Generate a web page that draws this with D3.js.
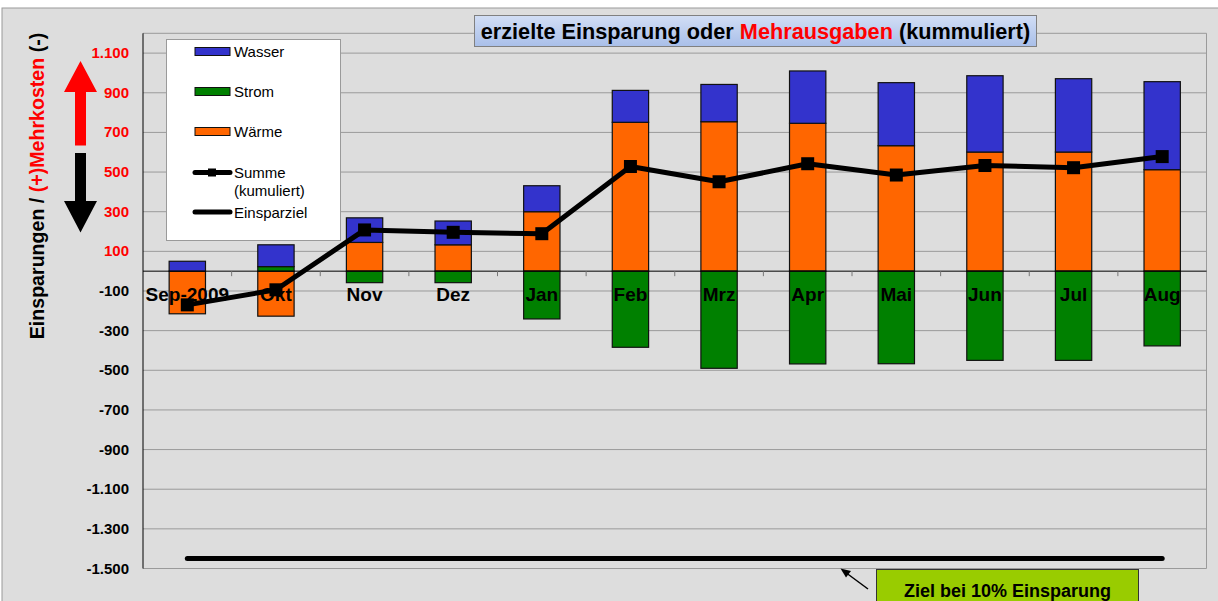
<!DOCTYPE html>
<html>
<head>
<meta charset="utf-8">
<title>Einsparung</title>
<script src="https://cdn.jsdelivr.net/npm/d3@7"></script>
<style>
  body { margin: 0; background: #fff; }
  svg { display: block; font-family: Arial, "Liberation Sans", sans-serif; }
</style>
</head>
<body>
<script>
// data
var categories = ["Sep-2009", "Okt", "Nov", "Dez", "Jan", "Feb", "Mrz", "Apr", "Mai", "Jun", "Jul", "Aug"];
var waerme = [-215, -227, 145, 133, 300, 751, 754, 746, 633, 601, 601, 512];
var strom  = [0, 23, -58, -58, -241, -384, -490, -468, -467, -450, -450, -377];
var wasser = [50, 110, 124, 120, 131, 161, 188, 264, 318, 385, 370, 444];
var summe  = [-170, -94, 208, 196, 189, 528, 451, 542, 485, 533, 522, 578];
var einsparziel = [-1450, -1450, -1450, -1450, -1450, -1450, -1450, -1450, -1450, -1450, -1450, -1450];
var yTicks = [1100, 900, 700, 500, 300, 100, -100, -300, -500, -700, -900, -1100, -1300, -1500];

var colours = { waerme: "#FF6600", strom: "#008000", wasser: "#3333CC" };

var W = 1218, H = 601;
var plot = { left: 143, right: 1206.5, top: 33.3, bottom: 568.5 };

var de = d3.formatLocale({ decimal: ",", thousands: ".", grouping: [3], currency: ["", " €"], minus: "-" });
var fmt = de.format(",");

var svg = d3.select("body").append("svg")
    .attr("width", W)
    .attr("height", H);

// chart area
svg.append("rect")
    .attr("x", 2).attr("y", 8)
    .attr("width", W + 10).attr("height", H)
    .attr("fill", "#DDDDDD")
    .attr("stroke", "#9a9a9a");

var x = d3.scaleBand()
    .domain(categories)
    .range([plot.left, plot.right])
    .padding(0);

var y = d3.scaleLinear()
    .domain([-1500, 1200])
    .range([plot.bottom, plot.top]);

var barW = x.bandwidth() * 0.41;
var cx = function(c) { return x(c) + x.bandwidth() / 2; };

// gridlines
svg.append("g")
    .selectAll("line")
    .data(yTicks)
    .enter()
    .append("line")
    .attr("x1", plot.left).attr("x2", plot.right)
    .attr("y1", function(d) { return y(d); })
    .attr("y2", function(d) { return y(d); })
    .attr("stroke", "#9a9a9a")
    .attr("stroke-width", 1);

// plot border top and right
svg.append("path")
    .attr("d", "M" + plot.left + "," + plot.top + "H" + plot.right + "V" + plot.bottom)
    .attr("fill", "none")
    .attr("stroke", "#9a9a9a");

// y tick labels
svg.append("g")
    .selectAll("text")
    .data(yTicks)
    .enter()
    .append("text")
    .attr("x", 129)
    .attr("y", function(d) { return y(d) + 5; })
    .attr("text-anchor", "end")
    .attr("font-size", "15px")
    .attr("font-weight", "bold")
    .attr("fill", function(d) { return d > 0 ? "#FF0000" : "#000"; })
    .text(function(d) { return fmt(d); });

// stacked bars
var table = categories.map(function(c, i) {
    return { cat: c, waerme: waerme[i], strom: strom[i], wasser: wasser[i] };
});
var stack = d3.stack()
    .keys(["waerme", "strom", "wasser"])
    .offset(d3.stackOffsetDiverging);
var series = stack(table);

svg.append("g")
    .selectAll("g")
    .data(series)
    .enter()
    .append("g")
    .attr("fill", function(s) { return colours[s.key]; })
    .selectAll("rect")
    .data(function(s) { return s.filter(function(d) { return d[1] - d[0] !== 0; }); })
    .enter()
    .append("rect")
    .attr("x", function(d) { return cx(d.data.cat) - barW / 2; })
    .attr("width", barW)
    .attr("y", function(d) { return y(Math.max(d[0], d[1])); })
    .attr("height", function(d) { return Math.abs(y(d[0]) - y(d[1])); })
    .attr("stroke", "#111")
    .attr("stroke-width", 1.2);

// y axis line and zero line
svg.append("line")
    .attr("x1", plot.left).attr("x2", plot.left)
    .attr("y1", plot.top).attr("y2", plot.bottom)
    .attr("stroke", "#000");
svg.append("line")
    .attr("x1", plot.left).attr("x2", plot.right)
    .attr("y1", y(0)).attr("y2", y(0))
    .attr("stroke", "#000");
svg.append("g")
    .selectAll("line")
    .data(categories.slice(1))
    .enter()
    .append("line")
    .attr("x1", function(d) { return x(d); })
    .attr("x2", function(d) { return x(d); })
    .attr("y1", y(0)).attr("y2", y(0) + 5)
    .attr("stroke", "#777");

// category labels
svg.append("g")
    .selectAll("text")
    .data(categories)
    .enter()
    .append("text")
    .attr("x", function(d) { return cx(d); })
    .attr("y", 301)
    .attr("text-anchor", "middle")
    .attr("font-size", "19px")
    .attr("font-weight", "bold")
    .text(function(d) { return d; });

// Einsparziel
var line = d3.line()
    .x(function(d, i) { return cx(categories[i]); })
    .y(function(d) { return y(d); });

svg.append("path")
    .datum(einsparziel)
    .attr("d", line)
    .attr("fill", "none")
    .attr("stroke", "#000")
    .attr("stroke-width", 5)
    .attr("stroke-linecap", "round");

// Summe (kumuliert)
svg.append("path")
    .datum(summe)
    .attr("d", line)
    .attr("fill", "none")
    .attr("stroke", "#000")
    .attr("stroke-width", 5)
    .attr("stroke-linejoin", "round");

var ms = 13;
svg.append("g")
    .selectAll("rect")
    .data(summe)
    .enter()
    .append("rect")
    .attr("x", function(d, i) { return cx(categories[i]) - ms / 2; })
    .attr("y", function(d) { return y(d) - ms / 2; })
    .attr("width", ms).attr("height", ms)
    .attr("fill", "#000");

// legend
var lg = svg.append("g");
lg.append("rect")
    .attr("x", 166.5).attr("y", 39.5)
    .attr("width", 174).attr("height", 201)
    .attr("fill", "#fff")
    .attr("stroke", "#9a9a9a");

var legendBars = [
    { name: "Wasser", key: "wasser", y: 51.5 },
    { name: "Strom", key: "strom", y: 91.5 },
    { name: "Wärme", key: "waerme", y: 131.5 }
];
lg.selectAll("rect.sw")
    .data(legendBars)
    .enter()
    .append("rect")
    .attr("class", "sw")
    .attr("x", 195).attr("y", function(d) { return d.y - 4; })
    .attr("width", 35).attr("height", 8)
    .attr("fill", function(d) { return colours[d.key]; })
    .attr("stroke", "#111");
lg.selectAll("text.sw")
    .data(legendBars)
    .enter()
    .append("text")
    .attr("class", "sw")
    .attr("x", 234).attr("y", function(d) { return d.y + 5.5; })
    .attr("font-size", "15px")
    .text(function(d) { return d.name; });

lg.append("line")
    .attr("x1", 195).attr("x2", 230)
    .attr("y1", 172.5).attr("y2", 172.5)
    .attr("stroke", "#000").attr("stroke-width", 5)
    .attr("stroke-linecap", "round");
lg.append("rect")
    .attr("x", 208).attr("y", 168.5)
    .attr("width", 8).attr("height", 8)
    .attr("fill", "#000");
lg.append("text")
    .attr("x", 234).attr("y", 177.5)
    .attr("font-size", "15px")
    .text("Summe");
lg.append("text")
    .attr("x", 234).attr("y", 195.5)
    .attr("font-size", "15px")
    .text("(kumuliert)");
lg.append("line")
    .attr("x1", 195).attr("x2", 230)
    .attr("y1", 212).attr("y2", 212)
    .attr("stroke", "#000").attr("stroke-width", 5)
    .attr("stroke-linecap", "round");
lg.append("text")
    .attr("x", 234).attr("y", 217.5)
    .attr("font-size", "15px")
    .text("Einsparziel");

// title box
var defs = svg.append("defs");
var grad = defs.append("linearGradient")
    .attr("id", "tg")
    .attr("x1", 0).attr("y1", 0).attr("x2", 0).attr("y2", 1);
grad.append("stop").attr("offset", "0%").attr("stop-color", "#d2def5");
grad.append("stop").attr("offset", "100%").attr("stop-color", "#a9bfe9");

svg.append("rect")
    .attr("x", 474.5).attr("y", 15.5)
    .attr("width", 562).attr("height", 31)
    .attr("fill", "url(#tg)")
    .attr("stroke", "#808080");
var title = svg.append("text")
    .attr("x", 755.5).attr("y", 38.5)
    .attr("text-anchor", "middle")
    .attr("font-size", "21.7px")
    .attr("font-weight", "bold");
title.append("tspan").text("erzielte Einsparung oder ");
title.append("tspan").attr("fill", "#FF0000").text("Mehrausgaben");
title.append("tspan").text(" (kummuliert)");

// y axis title
var yt = svg.append("text")
    .attr("transform", "translate(44,186) rotate(-90)")
    .attr("text-anchor", "middle")
    .attr("font-size", "19.6px")
    .attr("font-weight", "bold");
yt.append("tspan").text("Einsparungen / ");
yt.append("tspan").attr("fill", "#FF0000").text("(+)Mehrkosten");
yt.append("tspan").text(" (-)");

// arrows
svg.append("path")
    .attr("d", "M80.5,61 L97,92 L86,92 L86,145.5 L75,145.5 L75,92 L64,92 Z")
    .attr("fill", "#FF0000");
svg.append("path")
    .attr("d", "M75,153 L86,153 L86,201 L97,201 L80.5,232.5 L64,201 L75,201 Z")
    .attr("fill", "#000");

// annotation
svg.append("rect")
    .attr("x", 876.5).attr("y", 569.5)
    .attr("width", 262).attr("height", 40)
    .attr("fill", "#99CC00")
    .attr("stroke", "#333");
svg.append("text")
    .attr("x", 1007.5).attr("y", 596.5)
    .attr("text-anchor", "middle")
    .attr("font-size", "18px")
    .attr("font-weight", "bold")
    .text("Ziel bei 10% Einsparung");
svg.append("line")
    .attr("x1", 868).attr("y1", 589)
    .attr("x2", 845).attr("y2", 572)
    .attr("stroke", "#000").attr("stroke-width", 1.5);
svg.append("path")
    .attr("d", "M840.5,568.5 L851,571 L846,577.5 Z")
    .attr("fill", "#000");
</script>
</body>
</html>
